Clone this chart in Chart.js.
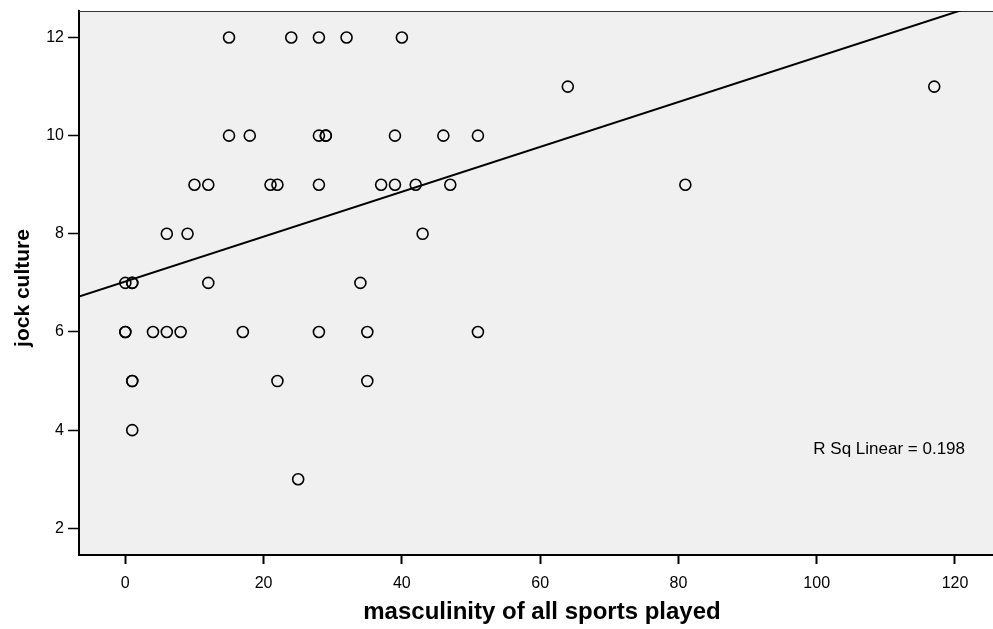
<!DOCTYPE html>
<html>
<head>
<meta charset="utf-8">
<script src="https://cdn.jsdelivr.net/npm/chart.js@4/dist/chart.umd.min.js"></script>
<style>
  html, body { margin: 0; padding: 0; background: #fff; overflow: hidden; }
  #wrap { width: 993px; height: 629px; position: relative; }
  #plot { display: block; }
</style>
</head>
<body>
<div id="wrap"><canvas id="plot"></canvas></div>
<script>
// values
var sportsMasculinity = [15, 24, 28, 32, 40,
  64, 117,
  15, 18, 28, 29, 29, 39, 46, 51,
  10, 12, 21, 22, 28, 37, 39, 42, 47, 81,
  6, 9, 43,
  0, 1, 1, 12, 34,
  0, 0, 4, 6, 8, 17, 28, 35, 51,
  1, 1, 22, 35,
  1,
  25];
var jockCulture = [12, 12, 12, 12, 12,
  11, 11,
  10, 10, 10, 10, 10, 10, 10, 10,
  9, 9, 9, 9, 9, 9, 9, 9, 9, 9,
  8, 8, 8,
  7, 7, 7, 7, 7,
  6, 6, 6, 6, 6, 6, 6, 6, 6,
  5, 5, 5, 5,
  4,
  3];
var xTicks = [0, 20, 40, 60, 80, 100, 120];
var yTicks = [2, 4, 6, 8, 10, 12];
var fitIntercept = 7.03;
var fitSlope = 0.0457;
var rSqText = "R Sq Linear = 0.198";
var xTitle = "masculinity of all sports played";
var yTitle = "jock culture";

var xMin = -6.7, xEdge = 125.5; // xEdge = value at the right edge of the picture
var yMin = 1.456, yMax = 12.54;

var FONT = 'Arial, "Liberation Sans", sans-serif';

var points = sportsMasculinity.map(function (x, i) {
  return { x: x, y: jockCulture[i] };
});
var fitLine = [
  { x: xMin, y: fitIntercept + fitSlope * xMin },
  { x: xEdge, y: fitIntercept + fitSlope * xEdge }
];

// gray plot background (runs to the picture edge), top border, titles, R squared note
var plotDeco = {
  id: "plotDeco",
  beforeDatasetsDraw: function (chart) {
    var ca = chart.chartArea;
    var ctx = chart.ctx;
    var w = chart.width;
    ctx.save();
    ctx.fillStyle = "#f0f0f0";
    ctx.fillRect(ca.left + 1, ca.top, w - ca.left, ca.bottom - ca.top - 1);
    ctx.strokeStyle = "#333";
    ctx.lineWidth = 1;
    ctx.beginPath();
    ctx.moveTo(ca.left, ca.top + 0.5);
    ctx.lineTo(w, ca.top + 0.5);
    ctx.stroke();
    ctx.strokeStyle = "#000";
    ctx.lineWidth = 2;
    ctx.beginPath();
    ctx.moveTo(ca.right - 1, ca.bottom);
    ctx.lineTo(w, ca.bottom);
    ctx.stroke();
    ctx.fillStyle = "#000";
    ctx.font = "17px " + FONT;
    ctx.textAlign = "right";
    ctx.textBaseline = "middle";
    ctx.fillText(rSqText, w - 28, 449);
    ctx.textAlign = "center";
    ctx.font = "bold 24px " + FONT;
    ctx.fillText(xTitle, 542, 612);
    ctx.translate(23, 288);
    ctx.rotate(-Math.PI / 2);
    ctx.font = "bold 21px " + FONT;
    ctx.fillText(yTitle, 0, 0);
    ctx.restore();
  }
};

var ctx = document.getElementById("plot").getContext("2d");
var chart = new Chart(ctx, {
  type: "scatter",
  data: {
    datasets: [
      {
        label: "jock culture",
        data: points,
        pointStyle: "circle",
        pointRadius: 5.5,
        pointHoverRadius: 5.5,
        pointBorderWidth: 1.6,
        pointBorderColor: "#000",
        pointBackgroundColor: "rgba(0,0,0,0)",
        order: 1
      },
      {
        type: "line",
        label: "fit",
        data: fitLine,
        borderColor: "#000",
        borderWidth: 2,
        pointRadius: 0,
        fill: false,
        order: 2
      }
    ]
  },
  plugins: [plotDeco],
  options: {
    responsive: true,
    maintainAspectRatio: false,
    animation: false,
    events: [],
    layout: { padding: { top: 11, right: 0, bottom: 0, left: 0 } },
    plugins: {
      legend: { display: false },
      tooltip: { enabled: false }
    },
    scales: {
      x: {
        type: "linear",
        min: xMin,
        max: xEdge,
        afterBuildTicks: function (axis) {
          axis.ticks = xTicks.map(function (v) { return { value: v }; });
        },
        afterFit: function (scale) {
          scale.height = 74;
          scale.paddingLeft = 0;
          scale.paddingRight = 0;
        },
        grid: {
          drawOnChartArea: false,
          drawTicks: true,
          tickLength: 9,
          tickWidth: 2,
          tickColor: "#000"
        },
        border: { display: true, color: "#000", width: 2 },
        ticks: {
          color: "#000",
          padding: 10,
          maxRotation: 0,
          font: { family: FONT, size: 16 }
        },
        title: { display: false }
      },
      y: {
        type: "linear",
        min: yMin,
        max: yMax,
        afterBuildTicks: function (axis) {
          axis.ticks = yTicks.map(function (v) { return { value: v }; });
        },
        afterFit: function (scale) {
          scale.width = 79;
          scale.paddingTop = 0;
          scale.paddingBottom = 0;
        },
        grid: {
          drawOnChartArea: false,
          drawTicks: true,
          tickLength: 11,
          tickWidth: 1.5,
          tickColor: "#000"
        },
        border: { display: true, color: "#000", width: 2 },
        ticks: {
          color: "#000",
          padding: 4,
          font: { family: FONT, size: 16 }
        },
        title: { display: false }
      }
    }
  }
});

// Chart.js keeps a few pixels free on the right; shrink the x range so the
// value at the picture edge stays xEdge
var ca = chart.chartArea;
if (ca.right < chart.width) {
  chart.options.scales.x.max = xMin + (xEdge - xMin) * (ca.right - ca.left) / (chart.width - ca.left);
  chart.update();
}
</script>
</body>
</html>
